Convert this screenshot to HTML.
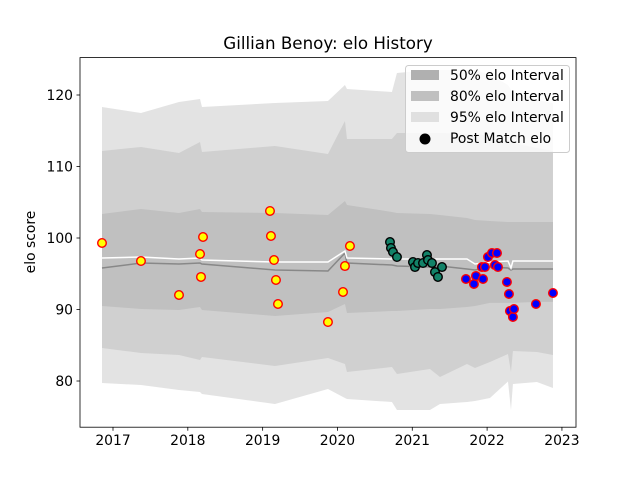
<!DOCTYPE html>
<html><head><meta charset="utf-8"><style>
body{margin:0;background:#fff}
svg{display:block;font-family:"DejaVu Sans","Liberation Sans",sans-serif}
</style></head><body>
<svg id="chart" width="640" height="480">
<rect width="640" height="480" fill="#fff"/>
<g id="bands"></g><g id="lines"></g><g id="points"></g><g id="axes"></g>
<text x="328" y="49" text-anchor="middle" font-size="16.7">Gillian Benoy: elo History</text>
<text transform="translate(35,242) rotate(-90)" text-anchor="middle" font-size="13.9">elo score</text>
<g>
<rect x="405.5" y="65.5" width="164" height="87" rx="3" fill="#fff" fill-opacity="0.8" stroke="#ccc"/>
<rect x="411" y="70" width="28" height="10" fill="#b0b0b0"/>
<text x="450" y="80" font-size="13.9">50% elo Interval</text>
<rect x="411" y="91" width="28" height="10" fill="#c0c0c0"/>
<text x="450" y="101" font-size="13.9">80% elo Interval</text>
<rect x="411" y="112" width="28" height="10" fill="#e0e0e0"/>
<text x="450" y="122" font-size="13.9">95% elo Interval</text>
<circle cx="425" cy="139" r="5.5" fill="#000"/>
<text x="450" y="143" font-size="13.9">Post Match elo</text>
</g>
</svg>
<script>
const dates=[2016.853,2017.374,2017.882,2018.163,2018.189,2019.165,2019.873,2020.100,2020.127,2020.728,2020.795,2021.236,2021.370,2021.731,2021.838,2022.038,2022.279,2022.319,2022.345,2022.666,2022.880];
const upper95=[118.32,117.48,119.02,119.44,118.32,118.88,119.16,121.40,120.84,120.42,123.08,123.50,123.50,123.50,123.50,122.80,121.40,120.70,120.42,119.30,118.88];
const upper80=[112.17,112.73,111.89,113.43,112.03,112.87,111.75,116.36,113.85,113.85,114.69,114.69,114.69,114.55,114.55,114.27,113.71,113.43,113.29,112.59,112.17];
const upper50=[103.36,104.06,103.50,104.06,103.64,103.50,103.22,105.17,104.62,103.64,103.50,103.36,103.22,102.80,102.52,102.38,102.24,102.24,102.24,102.24,102.24];
const median=[95.80,96.50,96.36,96.50,96.36,95.52,95.38,97.90,96.50,96.22,96.08,95.94,96.08,95.66,95.52,95.94,95.80,95.52,95.66,95.66,95.66];
const mean=[97.20,97.34,97.06,97.20,96.92,96.64,96.64,98.18,97.20,97.06,97.06,97.06,97.06,97.06,96.36,96.64,96.78,95.80,96.78,96.78,96.78];
const lower50=[90.49,90.07,89.93,90.35,89.93,89.09,89.65,90.77,89.51,89.79,89.79,90.07,90.07,90.35,90.49,90.92,90.92,90.92,90.92,91.06,91.06];
const lower80=[84.62,83.92,83.64,82.94,83.36,82.10,83.22,82.38,81.26,81.96,80.98,81.68,80.56,82.38,81.82,82.66,83.78,81.26,84.20,84.06,83.64];
const lower95=[79.72,79.44,78.74,78.46,78.18,76.78,78.88,77.62,77.48,77.06,75.95,75.95,76.78,77.06,77.20,77.62,79.94,75.95,79.58,79.86,79.02];
const yellowX=[2016.853,2017.374,2017.882,2018.163,2018.203,2018.176,2019.098,2019.111,2019.152,2019.178,2019.205,2019.873,2020.074,2020.100,2020.167];
const yellowY=[99.30,96.78,92.03,97.76,100.14,94.55,103.78,100.28,96.92,94.13,90.77,88.25,92.45,96.08,98.88];
const greenX=[2020.702,2020.715,2020.742,2020.795,2021.009,2021.036,2021.076,2021.143,2021.196,2021.210,2021.263,2021.303,2021.343,2021.397];
const greenY=[99.44,98.60,98.04,97.34,96.64,95.94,96.50,96.50,97.62,96.92,96.50,95.24,94.55,95.94];
const blueX=[2021.717,2021.824,2021.851,2021.945,2022.011,2022.065,2022.132,2021.931,2021.971,2022.105,2022.145,2022.265,2022.292,2022.305,2022.345,2022.359,2022.653,2022.880];
const blueY=[94.27,93.57,94.69,94.27,97.34,97.90,97.90,95.94,95.94,96.22,95.94,93.85,92.17,89.79,88.95,90.07,90.77,92.31];
const xTicks=[2017,2018,2019,2020,2021,2022,2023];
const yTicks=[80,90,100,110,120];

const NS='http://www.w3.org/2000/svg';
const L=80,R=576,T=57.6,B=427.2;
const X0=2016.559,X1=2023.188,Y0=73.54,Y1=125.23;
const sx=v=>L+(v-X0)/(X1-X0)*(R-L);
const sy=v=>B-(v-Y0)/(Y1-Y0)*(B-T);
function mk(tag,attrs,parent){const e=document.createElementNS(NS,tag);for(const k in attrs)e.setAttribute(k,attrs[k]);parent.appendChild(e);return e;}
function band(up,lo,fill,name){
  let d='M'+dates.map((t,i)=>sx(t)+','+sy(up[i])).join('L');
  d+='L'+dates.map((t,i)=>[t,i]).reverse().map(([t,i])=>sx(t)+','+sy(lo[i])).join('L')+'Z';
  const p=mk('path',{d:d,fill:fill},document.getElementById('bands'));
  
  
}
band(upper95,lower95,'#e3e3e3','band-95');
band(upper80,lower80,'#d0d0d0','band-80');
band(upper50,lower50,'#c0c0c0','band-50');
function line(vals,color,name){
  const p=mk('polyline',{points:dates.map((t,i)=>sx(t)+','+sy(vals[i])).join(' '),fill:'none',stroke:color,'stroke-width':1.5},document.getElementById('lines'));
  
  
}
line(median,'#888888','median-line');
line(mean,'#ffffff','mean-line');
function pts(xs,ys,fill,edge,name){
  const g=document.getElementById('points');
  xs.forEach((t,i)=>{
    const c=mk('circle',{cx:sx(t),cy:sy(ys[i]),r:4.3,fill:fill,stroke:edge,'stroke-width':1.4},g);
    
    
  });
}
pts(yellowX,yellowY,'#ffff00','#ff0000','yellow-point');
pts(greenX,greenY,'#128268','#000000','green-point');
pts(blueX,blueY,'#0000ff','#ff0000','blue-point');
const ax=document.getElementById('axes');
const fr=mk('rect',{x:L,y:T,width:R-L,height:B-T,fill:'none',stroke:'#000','stroke-width':0.8},ax);


xTicks.forEach(v=>{
  const x=sx(v);
  mk('line',{x1:x,x2:x,y1:B,y2:B+3.5,stroke:'#000','stroke-width':0.8},ax);
  const t=mk('text',{x:x,y:B+18,'text-anchor':'middle','font-size':13.9},ax);
  t.textContent=v;
  
  
});
yTicks.forEach(v=>{
  const y=sy(v);
  mk('line',{x1:L-3.5,x2:L,y1:y,y2:y,stroke:'#000','stroke-width':0.8},ax);
  const t=mk('text',{x:L-7,y:y+5,'text-anchor':'end','font-size':13.9},ax);
  t.textContent=v;
  
  
});
</script>
</body></html>
